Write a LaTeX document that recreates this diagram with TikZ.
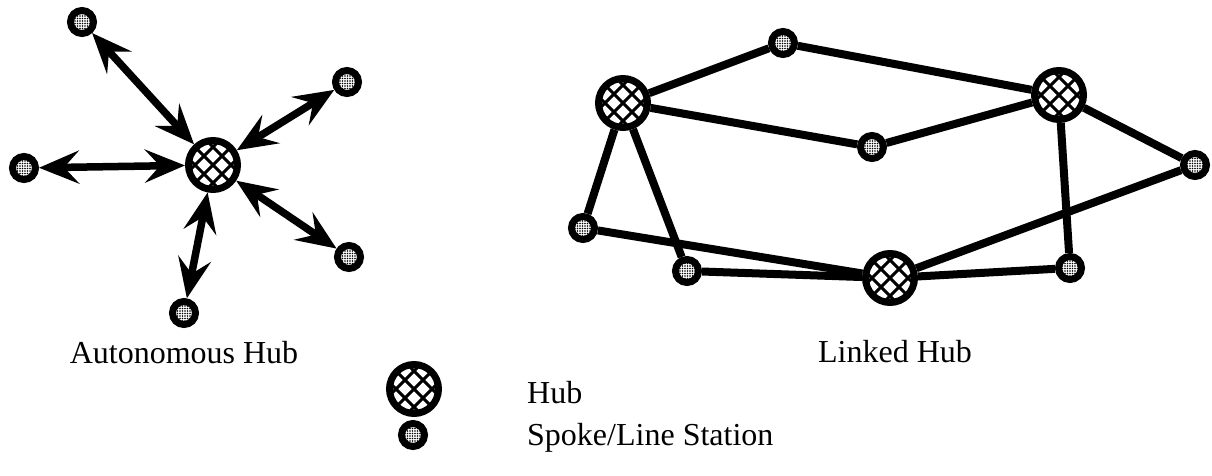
\documentclass[tikz,border=0pt]{standalone}
\usepackage{fontspec}
\setmainfont{Liberation Serif}
\usetikzlibrary{arrows.meta,patterns.meta}

\tikzset{
  hub/.style={circle, draw=black, line width=7pt, minimum size=49pt, inner sep=0pt, fill=white,
    path picture={
      \foreach \d in {-36,-18,0,18,36}{
        \draw[line width=3pt] ([shift={(\d pt,0pt)}]path picture bounding box.center) ++(-40pt,-40pt) -- ++(80pt,80pt);
        \draw[line width=3pt] ([shift={(\d pt,0pt)}]path picture bounding box.center) ++(-40pt,40pt) -- ++(80pt,-80pt);
      }}},
  spoke/.style={circle, draw=black, line width=7pt, minimum size=23pt, inner sep=0pt,
    preaction={fill=white}, pattern={Dots[radius=0.85pt, distance=2.5pt]}},
  link/.style={line width=8pt},
  barb/.tip={Stealth[length=40pt, width=33pt, inset=15pt]},
  twoway/.style={line width=7.5pt, barb-barb},
  caption/.style={font=\fontsize{32}{38}\selectfont, inner sep=0pt}
}

\begin{document}
\begin{tikzpicture}[x=1pt, y=-1pt]
\useasboundingbox (0,0) rectangle (1212,476);

% Autonomous hub with its spokes
\node[hub]   (ah) at (213,165) {};
\node[spoke] (a1) at (82,22) {};
\node[spoke] (a2) at (347,82) {};
\node[spoke] (a3) at (24,168) {};
\node[spoke] (a4) at (349,257) {};
\node[spoke] (a5) at (184,313) {};
\foreach \s in {a1,a2,a3,a4,a5}
  \draw[twoway] (ah) -- (\s);
\node[caption, anchor=base] (atext) at (184,363) {Autonomous Hub};

% Linked hubs
\node[hub]   (h1) at (623,103) {};
\node[hub]   (h2) at (1059,95) {};
\node[hub]   (h3) at (890,278) {};
\node[spoke] (s1) at (783,43) {};
\node[spoke] (s2) at (872,147) {};
\node[spoke] (s3) at (1195,165) {};
\node[spoke] (s4) at (1070,268) {};
\node[spoke] (s5) at (583,228) {};
\node[spoke] (s6) at (687,271) {};
\draw[link] (h1) -- (s1);
\draw[link] (s1) -- (h2);
\draw[link] (h1) -- (s2);
\draw[link] (s2) -- (h2);
\draw[link] (h2) -- (s3);
\draw[link] (h2) -- (s4);
\draw[link] (h1) -- (s5);
\draw[link] (h1) -- (s6);
\draw[link] (s5) -- (h3);
\draw[link] (s6) -- (h3);
\draw[link] (h3) -- (s3);
\draw[link] (h3) -- (s4);
\node[caption, anchor=base] (ltext) at (895,362) {Linked Hub};

% Legend
\node[hub]   (lh) at (414,389) {};
\node[spoke] (ls) at (413,435) {};
\node[caption, anchor=base west] (lhtext) at (527,403) {Hub};
\node[caption, anchor=base west] (lstext) at (527,445) {Spoke/Line Station};
\end{tikzpicture}
\end{document}
